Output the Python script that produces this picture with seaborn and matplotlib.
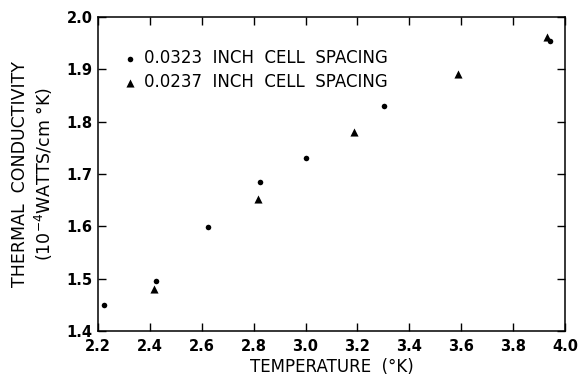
import matplotlib
matplotlib.use("Agg")
import matplotlib.pyplot as plt
import seaborn as sns
import pandas as pd

# Data
temp_a = [2.223, 2.422, 2.623, 2.823, 3.002, 3.301, 3.944]
cond_a = [1.449, 1.495, 1.598, 1.684, 1.730, 1.829, 1.955]
temp_b = [2.417, 2.817, 3.188, 3.588, 3.930]
cond_b = [1.481, 1.653, 1.780, 1.892, 1.961]
label_a = "0.0323  INCH  CELL  SPACING"
label_b = "0.0237  INCH  CELL  SPACING"
xticks = [2.2, 2.4, 2.6, 2.8, 3.0, 3.2, 3.4, 3.6, 3.8, 4.0]
yticks = [1.4, 1.5, 1.6, 1.7, 1.8, 1.9, 2.0]

sns.set_theme(style="ticks")
plt.rcParams['font.family'] = ['DejaVu Sans']
plt.rcParams['text.color'] = 'black'

df_a = pd.DataFrame({"T": temp_a, "K": cond_a})
df_b = pd.DataFrame({"T": temp_b, "K": cond_b})

fig = plt.figure(figsize=(5.8, 3.81), dpi=100)
ax = fig.add_axes([98/580, 1 - 331/381, (565 - 98)/580, (331 - 17)/381])

sns.scatterplot(data=df_a, x="T", y="K", ax=ax, marker="o", s=16, color="black",
                edgecolor="black", linewidth=0, label=label_a)
sns.scatterplot(data=df_b, x="T", y="K", ax=ax, marker="^", s=34, color="black",
                edgecolor="black", linewidth=0, label=label_b)

ax.set_xlim(2.2, 4.0)
ax.set_ylim(1.4, 2.0)
ax.set_xticks(xticks)
ax.set_yticks(yticks)
ax.set_xticklabels([f"{v:.1f}" for v in xticks], fontsize=10.5, fontweight="bold")
ax.set_yticklabels([f"{v:.1f}" for v in yticks], fontsize=10.5, fontweight="bold")
ax.tick_params(direction="in", length=6, width=1.0, top=True, right=True,
               color="black", labelcolor="black")
ax.tick_params(axis="x", pad=6)
ax.tick_params(axis="y", pad=4)
for sp in ax.spines.values():
    sp.set_linewidth(1.1)
    sp.set_color("black")

ax.set_xlabel("TEMPERATURE  (°K)", fontsize=12, labelpad=3, color="black")
ax.set_ylabel("THERMAL  CONDUCTIVITY\n(10$^{-4}$WATTS/cm °K)", fontsize=12.5,
              labelpad=8, color="black", linespacing=1.25)

leg = ax.legend(loc="upper left", bbox_to_anchor=(0.012, 0.95), frameon=False,
                fontsize=12, handletextpad=0.2, handlelength=1.2,
                labelspacing=0.35, borderaxespad=0.6)
for t in leg.get_texts():
    t.set_color("black")

fig.savefig("out.png", dpi=100, facecolor="white")
